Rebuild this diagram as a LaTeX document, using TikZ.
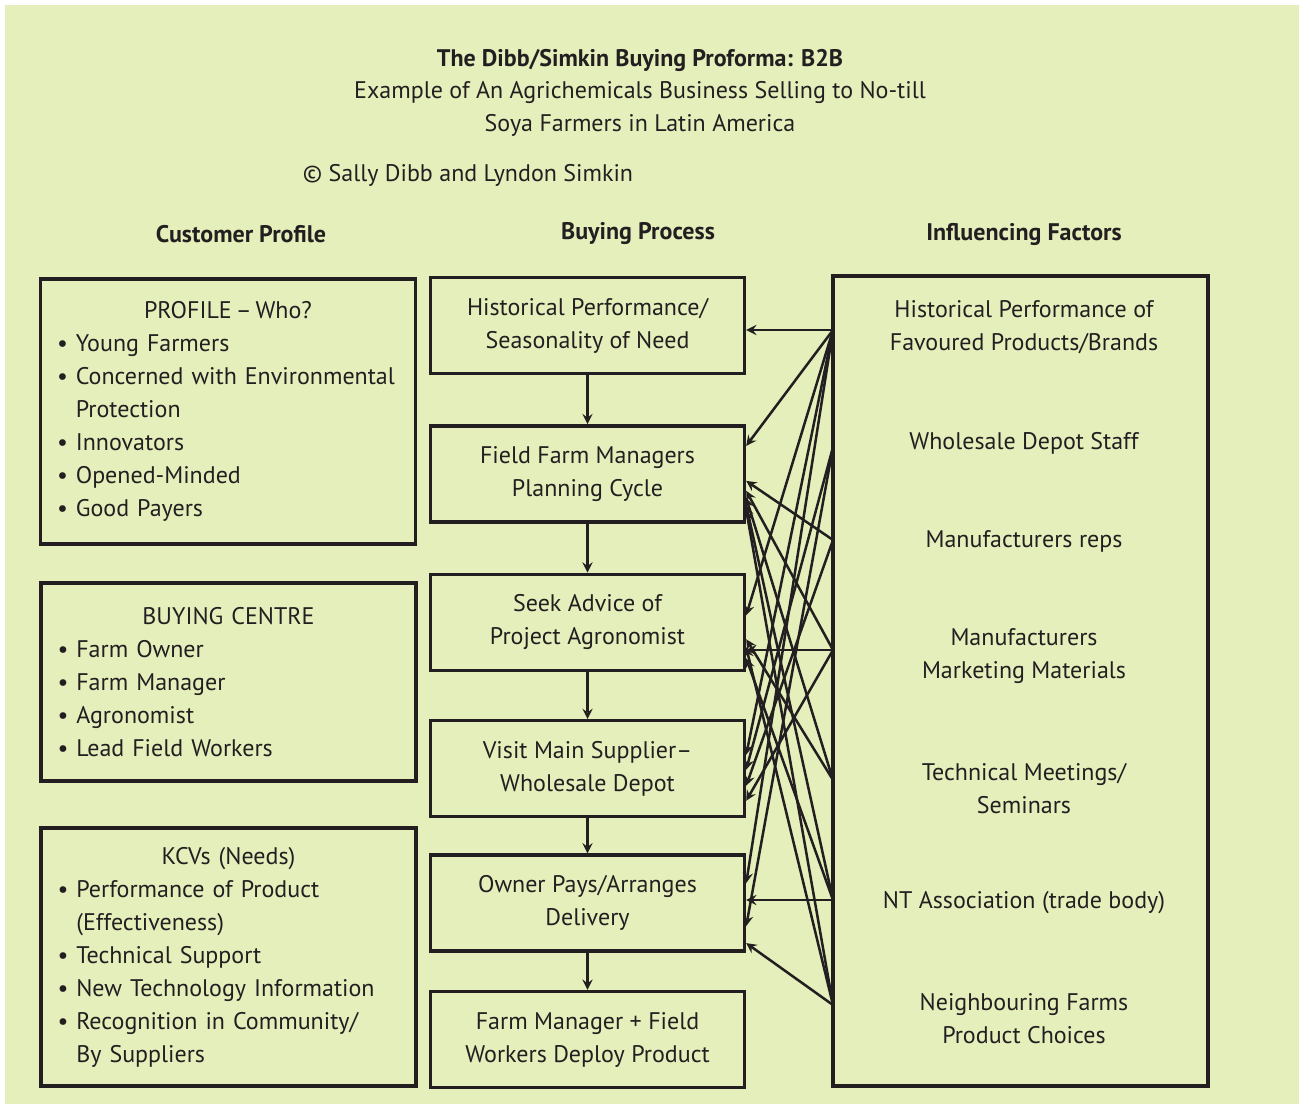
\documentclass[tikz,border=0pt]{standalone}
\usepackage{fontspec}
\setmainfont{PT Sans}
\usetikzlibrary{calc}
\usetikzlibrary{positioning}
\definecolor{bgleaf}{RGB}{229,239,188}
\definecolor{inkline}{RGB}{35,31,32}

\begin{document}
\begin{tikzpicture}[x=0.5pt,y=-0.5pt,
      font=\fontsize{12}{16.5}\selectfont,
      panel/.style  ={draw=inkline, line width=1.7pt, inner sep=0pt},
      stage/.style  ={panel, minimum width=157pt, minimum height=48pt, align=center, text=inkline},
      listbox/.style={panel, minimum width=187.5pt, text width=171pt, inner xsep=8.25pt, align=left, text=inkline},
      factor/.style ={text=inkline, align=center, inner sep=0pt},
      colhead/.style={text=inkline, inner sep=0pt, font=\fontsize{12}{16.5}\selectfont\bfseries},
      pull/.style   ={-stealth, line width=1.25pt, draw=inkline},
      node distance=24.5pt
    ]
    \fill[white] (0,0) rectangle (1301,1106) ;
    \fill[bgleaf] (5,5) rectangle (1299,1104) ;

    % titles
    \node [colhead] (title) at (640,60) {The Dibb/Simkin Buying Proforma: B2B} ;
    \node [factor] (subtitle) at (640,109) {Example of An Agrichemicals Business Selling to No-till\\Soya Farmers in Latin America} ;
    \node [factor] (copy) at (468,175) {\textcopyright{} Sally Dibb and Lyndon Simkin} ;
    \node [colhead] (hprofile) at (241,234) {Customer Profile} ;
    \node [colhead] (hbuying) at (638,234) {Buying Process} ;
    \node [colhead] (hinfluence) at (1024,234) {Influencing Factors} ;

    % customer profile
    \node [listbox, minimum height=132.5pt] (profile) at (228,411.5) {\makebox[171pt]{PROFILE\,--\,Who?}\\
      \textbullet~Young Farmers\\
      \textbullet~Concerned with Environmental\\
      \phantom{\textbullet~}Protection\\
      \textbullet~Innovators\\
      \textbullet~Opened-Minded\\
      \textbullet~Good Payers} ;
    \node [listbox, minimum height=99pt] (centre) at (228.5,682) {\makebox[171pt]{BUYING CENTRE}\\
      \textbullet~Farm Owner\\
      \textbullet~Farm Manager\\
      \textbullet~Agronomist\\
      \textbullet~Lead Field Workers} ;
    \node [listbox, minimum height=129pt] (kcv) at (228.5,957) {\makebox[171pt]{KCVs (Needs)}\\
      \textbullet~Performance of Product\\
      \phantom{\textbullet~}(Effectiveness)\\
      \textbullet~Technical Support\\
      \textbullet~New Technology Information\\
      \textbullet~Recognition in Community/\\
      \phantom{\textbullet~}By Suppliers} ;

    % buying process
    \node [stage] (hist) at (587.5,325.5) {Historical Performance/\\Seasonality of Need} ;
    \node [stage] (plan) [below=of hist] {Field Farm Managers\\Planning Cycle} ;
    \node [stage] (advice) [below=of plan] {Seek Advice of\\Project Agronomist} ;
    \node [stage] (visit) [below=23.5pt of advice] {Visit Main Supplier--\\Wholesale Depot} ;
    \node [stage] (pays) [below=17.5pt of visit] {Owner Pays/Arranges\\Delivery} ;
    \node [stage] (deploy) [below=18.5pt of pays] {Farm Manager + Field\\Workers Deploy Product} ;

    \draw [pull] (hist) -- (plan) ;
    \draw [pull] (plan) -- (advice) ;
    \draw [pull] (advice) -- (visit) ;
    \draw [pull] (visit) -- (pays) ;
    \draw [pull] (pays) -- (deploy) ;

    % influencing factors
    \node [panel, minimum width=187.5pt, minimum height=405pt] (factors) at (1020.5,681) {} ;
    \node [factor] (fhist) at (1024,327.5) {Historical Performance of\\Favoured Products/Brands} ;
    \node [factor] (fdepot) at (1024,443) {Wholesale Depot Staff} ;
    \node [factor] (freps) at (1024,541) {Manufacturers reps} ;
    \node [factor] (fmat) at (1024,656.5) {Manufacturers\\Marketing Materials} ;
    \node [factor] (fmeet) at (1024,788.5) {Technical Meetings/\\Seminars} ;
    \node [factor] (fnt) at (1024,903) {NT Association (trade body)} ;
    \node [factor] (ffarms) at (1024,1018.5) {Neighbouring Farms\\Product Choices} ;

    \coordinate (s1) at (833,330) ;
    \coordinate (s2) at (833,447) ;
    \coordinate (s3) at (833,540) ;
    \coordinate (s4) at (833,650) ;
    \coordinate (s5) at (833,780) ;
    \coordinate (s6) at (833,900) ;
    \coordinate (s7) at (833,1005) ;

    \draw [pull] (s1) -- (hist.east |- s1) ;
    \draw [pull] (s1) -- ($(plan.east)+(0,-28)$) ;
    \draw [pull] (s1) -- ($(advice.east)+(0,-7)$) ;
    \draw [pull] (s1) -- ($(visit.east)+(0,-14)$) ;
    \draw [pull] (s1) -- ($(pays.east)+(0,-20)$) ;
    \draw [pull] (s2) -- ($(visit.east)+(0,1)$) ;
    \draw [pull] (s2) -- ($(pays.east)+(0,23)$) ;
    \draw [pull] (s3) -- ($(plan.east)+(0,7)$) ;
    \draw [pull] (s3) -- ($(visit.east)+(0,17)$) ;
    \draw [pull] (s4) -- (advice.east |- s4) ;
    \draw [pull] (s4) -- ($(plan.east)+(0,17)$) ;
    \draw [pull] (s4) -- ($(visit.east)+(0,32)$) ;
    \draw [pull] (s5) -- ($(plan.east)+(0,24)$) ;
    \draw [pull] (s5) -- ($(advice.east)+(0,17)$) ;
    \draw [pull] (s6) -- (pays.east |- s6) ;
    \draw [pull] (s6) -- ($(plan.east)+(0,31)$) ;
    \draw [pull] (s6) -- ($(advice.east)+(0,36)$) ;
    \draw [pull] (s7) -- ($(pays.east)+(0,40)$) ;
    \draw [pull] (s7) -- ($(advice.east)+(0,25)$) ;
    \draw [pull] (s7) -- ($(plan.east)+(0,36)$) ;
  \end{tikzpicture}
\end{document}
